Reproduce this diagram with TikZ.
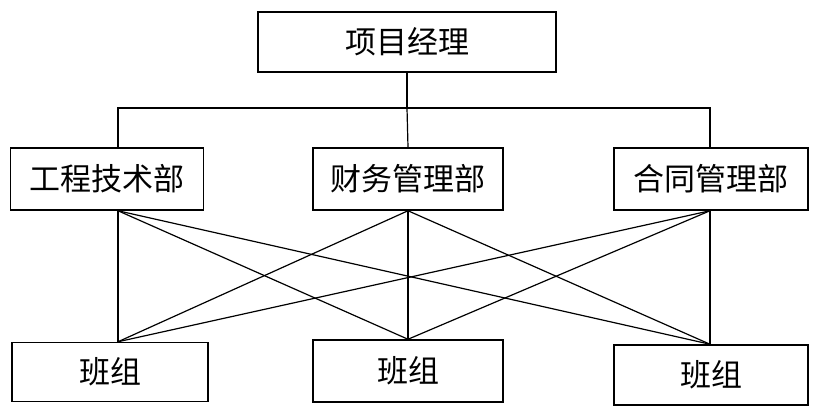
\documentclass[tikz,border=0pt]{standalone}
\usepackage{fontspec}
\newfontfamily\cjk{Noto Sans CJK SC}
\begin{document}
\begin{tikzpicture}[x=1pt,y=-1pt,
  box/.style={draw,line width=1.5pt,inner sep=0pt,font=\cjk\fontsize{31}{34}\selectfont},
  ln/.style={line width=1.2pt}]
\useasboundingbox[fill=white] (0,0) rectangle (820,416);
\node[box,minimum width=298pt,minimum height=60pt] (pm) at (407,42) {项目经理};
\node[box,minimum width=193pt,minimum height=62pt] (a) at (107,179) {工程技术部};
\node[box,minimum width=190pt,minimum height=62pt] (b) at (408,179) {财务管理部};
\node[box,minimum width=194pt,minimum height=62pt] (c) at (711,179) {合同管理部};
\node[box,minimum width=196pt,minimum height=59pt] (x) at (110,372) {班组};
\node[box,minimum width=190pt,minimum height=62pt] (y) at (408,371) {班组};
\node[box,minimum width=194pt,minimum height=60pt] (z) at (711,375) {班组};
\coordinate (h) at (407,108);
\draw[ln] (pm.south) -- (h);
\draw[ln] (a.north -| 118,0) |- (h) -| (c.north -| 710,0);
\draw[ln] (h) -- (b.north);
\foreach \s/\sx in {a/118,b/408,c/710}
  \foreach \t/\tx in {x/118,y/408,z/710}
    \draw[ln] (\s.south -| \sx,0) -- (\t.north -| \tx,0);
\end{tikzpicture}
\end{document}
